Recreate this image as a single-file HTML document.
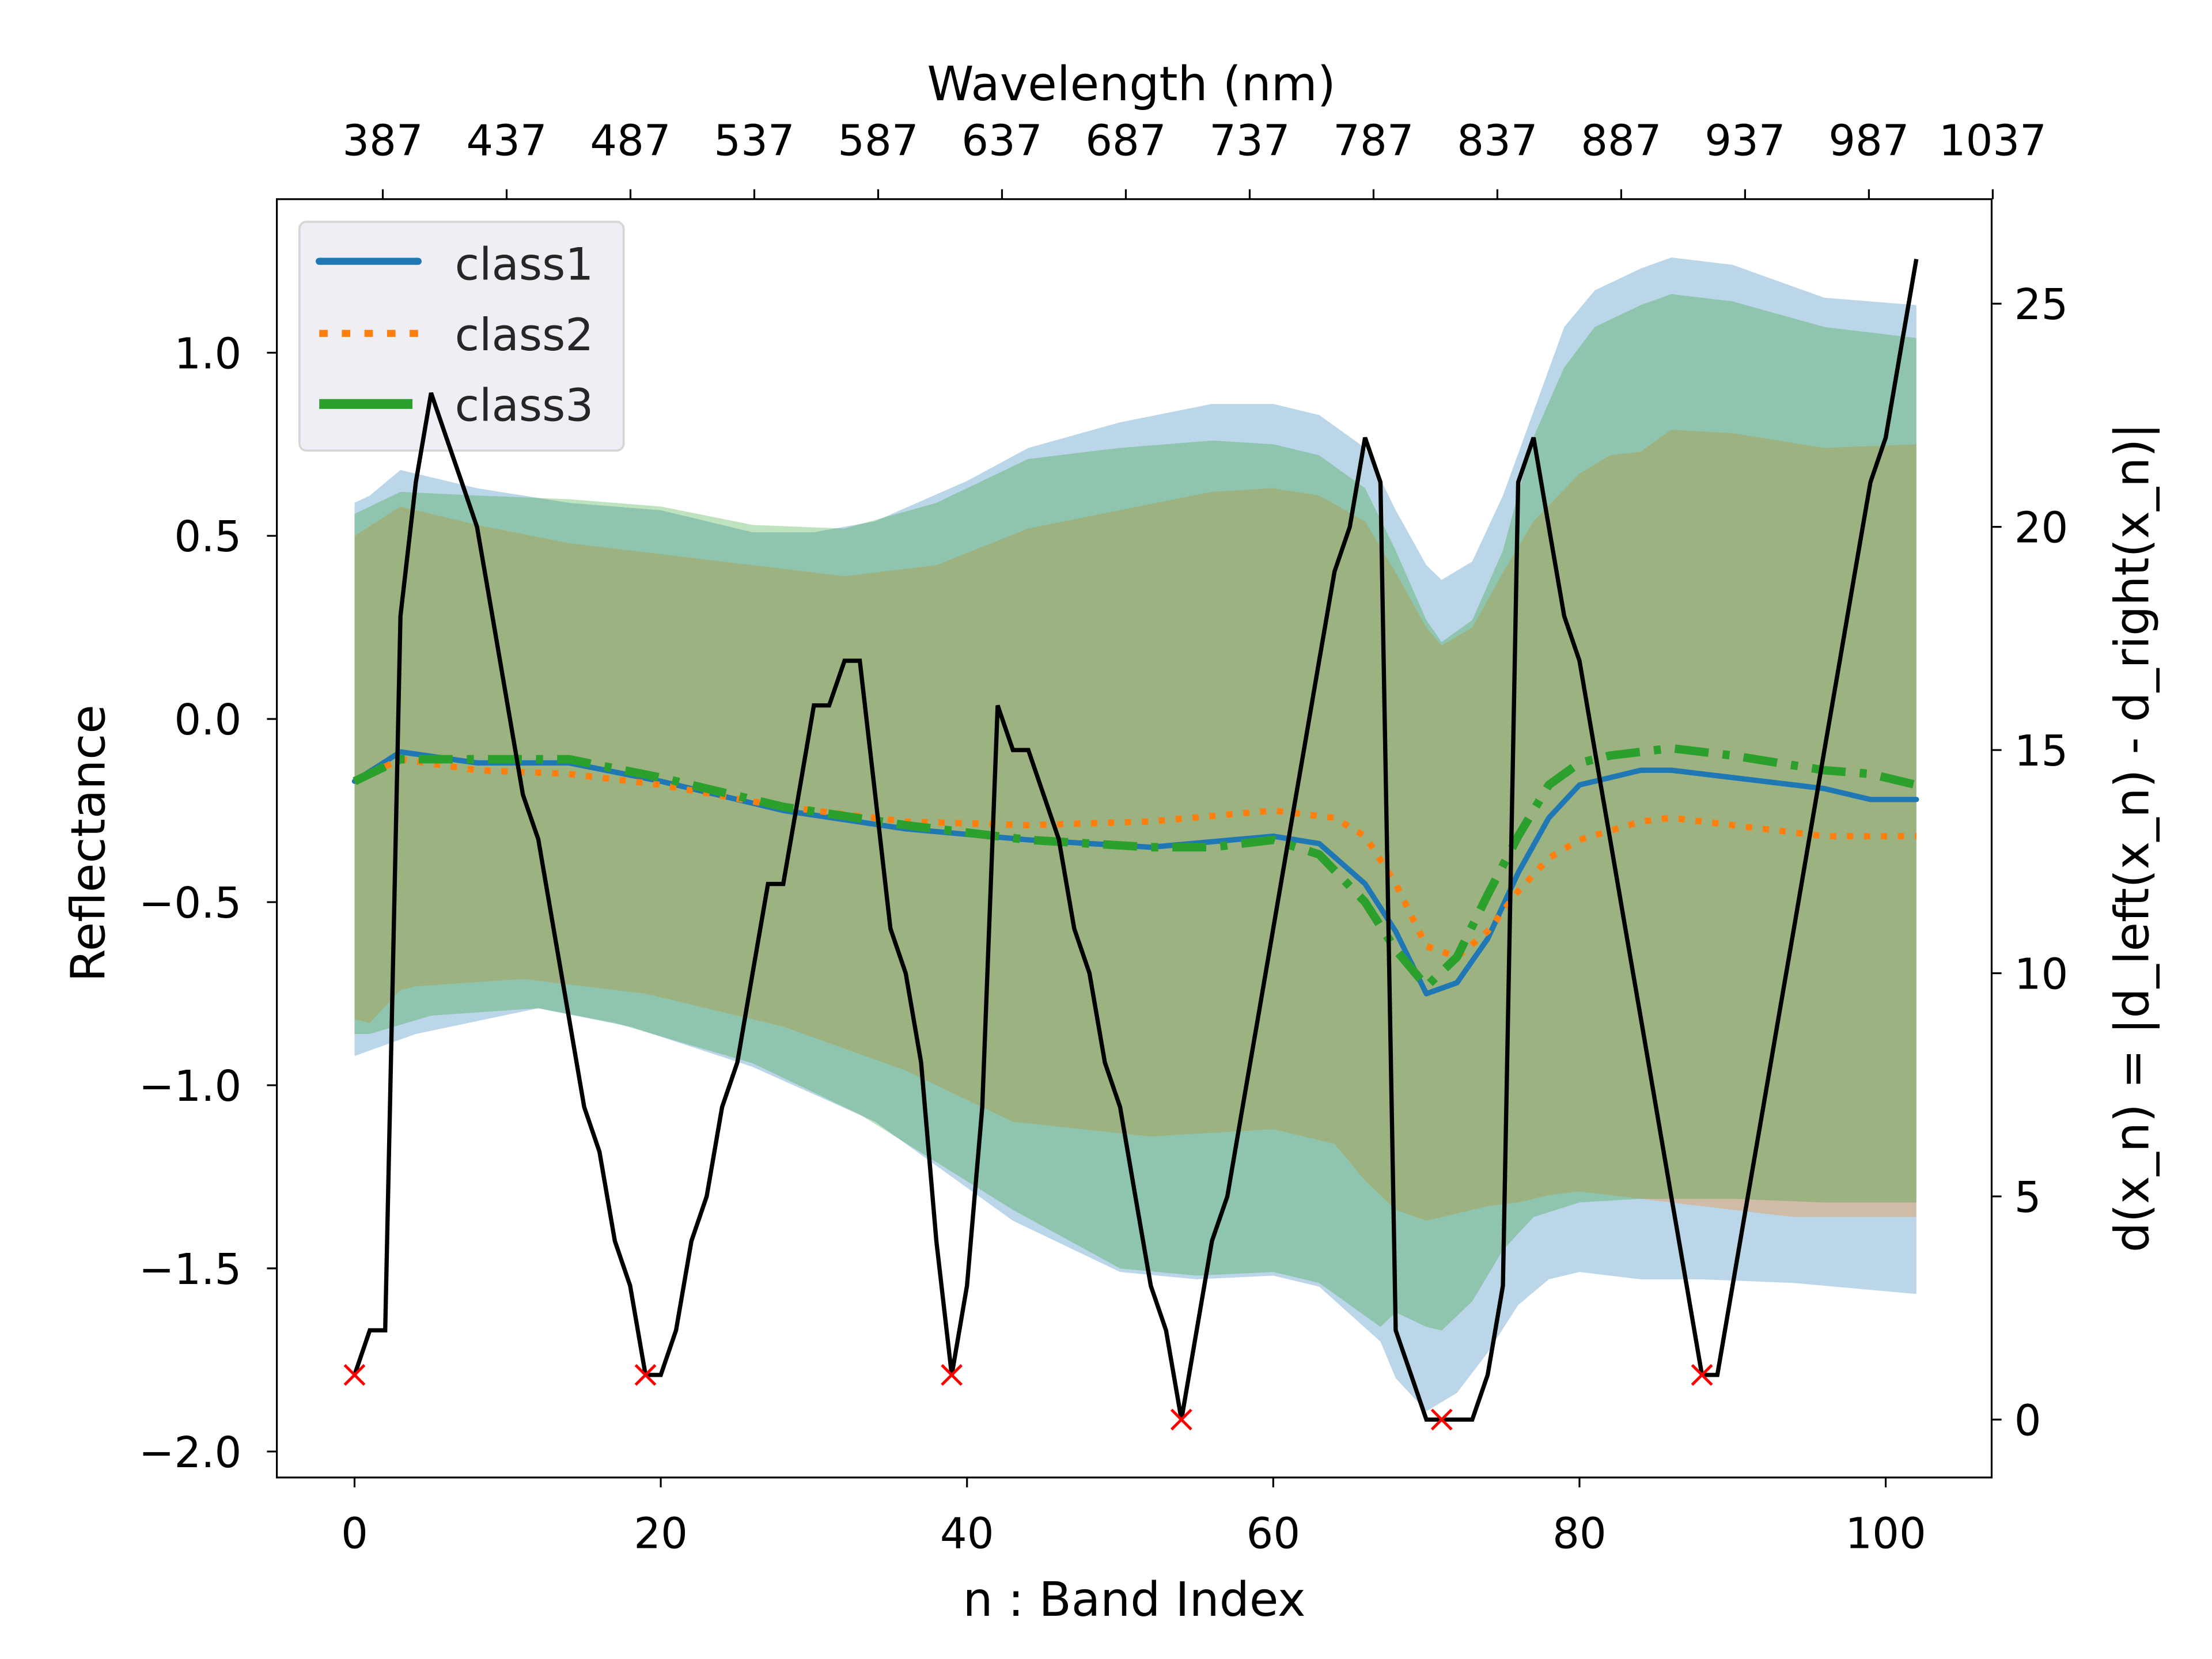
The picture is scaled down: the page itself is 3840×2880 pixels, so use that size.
<!DOCTYPE html>
<html><head><meta charset="utf-8"><style>
html,body{margin:0;padding:0;background:#fff}
svg{display:block}
text{font-family:"DejaVu Sans","Liberation Sans",sans-serif}
</style></head><body>
<svg id="chart" width="3840" height="2880" viewBox="0 0 1566 1174.5" xmlns="http://www.w3.org/2000/svg">
<rect x="0" y="0" width="1566" height="1175" fill="#fff"/>
<g id="fills"></g>
<g id="means"></g>
<g id="axes"></g>
<g id="legend">
  <rect x="212" y="157" width="229.5" height="162" rx="5" fill="#eeeef4" stroke="#d6d6d6" stroke-width="1.5"/>
  <line x1="226" y1="185" x2="296" y2="185" stroke="#1f77b4" stroke-width="5" stroke-linecap="round"/>
  <text x="322" y="198" font-size="31.5" fill="#262626">class1</text>
  <line x1="226" y1="236" x2="296" y2="236" stroke="#ff7f0e" stroke-width="5" stroke-dasharray="6,10"/>
  <text x="322" y="248" font-size="31.5" fill="#262626">class2</text>
  <line x1="226" y1="286" x2="292" y2="286" stroke="#2ca02c" stroke-width="7"/>
  <text x="322" y="298" font-size="31.5" fill="#262626">class3</text>
</g>
<g id="dline"></g>
</svg>
<script>
// ---- data ----
const c1UpIdx=[0,1,3,8,14,20,26,30,34,40,44,50,56,60,63,66,68,70,71,73,75,77,79,81,84,86,90,96,102];
const c1Up=[0.59,0.61,0.68,0.63,0.59,0.57,0.51,0.51,0.54,0.65,0.74,0.81,0.86,0.86,0.83,0.74,0.57,0.42,0.38,0.43,0.61,0.84,1.07,1.17,1.23,1.26,1.24,1.15,1.13];
const c1LoIdx=[0,4,12,18,26,34,43,50,55,60,63,67,68,70,72,74,76,78,80,84,88,94,102];
const c1Lo=[-0.92,-0.86,-0.79,-0.84,-0.95,-1.10,-1.37,-1.51,-1.53,-1.52,-1.55,-1.70,-1.80,-1.89,-1.84,-1.73,-1.60,-1.53,-1.51,-1.53,-1.53,-1.54,-1.57];
const c2UpIdx=[0,3,8,14,20,26,32,38,44,50,56,60,63,66,68,70,71,73,75,77,80,82,84,86,90,96,102];
const c2Up=[0.50,0.58,0.53,0.48,0.45,0.42,0.39,0.42,0.52,0.57,0.62,0.63,0.61,0.54,0.40,0.25,0.20,0.25,0.40,0.54,0.67,0.72,0.73,0.79,0.78,0.74,0.75];
const c2LoIdx=[0,1,3,4,11,19,28,36,43,52,60,64,66,68,70,72,74,76,78,80,84,88,94,102];
const c2Lo=[-0.82,-0.83,-0.74,-0.73,-0.71,-0.75,-0.84,-0.96,-1.10,-1.14,-1.12,-1.16,-1.26,-1.34,-1.37,-1.35,-1.33,-1.32,-1.30,-1.29,-1.31,-1.33,-1.36,-1.36];
const c3UpIdx=[0,3,8,14,20,26,32,38,44,50,56,60,63,66,68,70,71,73,75,77,79,81,84,86,90,96,102];
const c3Up=[0.56,0.62,0.61,0.60,0.58,0.53,0.52,0.59,0.71,0.74,0.76,0.75,0.72,0.63,0.46,0.27,0.21,0.27,0.46,0.77,0.96,1.07,1.13,1.16,1.14,1.07,1.04];
const c3LoIdx=[0,1,5,12,17,26,33,43,50,55,60,63,67,68,70,71,73,75,77,80,84,90,96,102];
const c3Lo=[-0.86,-0.86,-0.81,-0.79,-0.83,-0.94,-1.08,-1.34,-1.50,-1.52,-1.51,-1.54,-1.66,-1.62,-1.66,-1.67,-1.59,-1.45,-1.36,-1.32,-1.31,-1.31,-1.32,-1.32];
const c1MeanIdx=[0,3,8,14,20,28,36,44,52,60,63,66,68,70,72,74,76,78,80,82,84,86,90,96,99,102];
const c1Mean=[-0.17,-0.09,-0.12,-0.12,-0.17,-0.25,-0.30,-0.33,-0.35,-0.32,-0.34,-0.45,-0.58,-0.75,-0.72,-0.60,-0.42,-0.27,-0.18,-0.16,-0.14,-0.14,-0.16,-0.19,-0.22,-0.22];
const c2MeanIdx=[0,3,8,14,20,28,36,44,52,60,64,66,68,70,72,74,76,78,80,84,86,90,96,102];
const c2Mean=[-0.17,-0.11,-0.14,-0.15,-0.18,-0.24,-0.28,-0.29,-0.28,-0.25,-0.27,-0.32,-0.45,-0.62,-0.65,-0.58,-0.47,-0.38,-0.33,-0.28,-0.27,-0.29,-0.32,-0.32];
const c3MeanIdx=[0,3,8,14,20,28,36,44,52,56,60,63,66,68,70,72,74,76,78,80,82,84,86,90,96,99,102];
const c3Mean=[-0.17,-0.11,-0.11,-0.11,-0.16,-0.24,-0.29,-0.33,-0.35,-0.35,-0.33,-0.37,-0.50,-0.63,-0.73,-0.65,-0.48,-0.32,-0.18,-0.12,-0.10,-0.09,-0.08,-0.10,-0.14,-0.15,-0.18];
const dValues=[1,2,2,18,21,23,22,21,20,18,16,14,13,11,9,7,6,4,3,1,1,2,4,5,7,8,10,12,12,14,16,16,17,17,14,11,10,8,4,1,3,7,16,15,15,14,13,11,10,8,7,5,3,2,0,2,4,5,7,9,11,13,15,17,19,20,22,21,2,1,0,0,0,0,1,3,21,22,20,18,17,15,13,11,9,7,5,3,1,1,3,5,7,9,11,13,15,17,19,21,22,24,26];
const minimaIdx=[0,19,39,54,71,88];
const xTicks=[0,20,40,60,80,100];
const yTicks=[-2.0,-1.5,-1.0,-0.5,0.0,0.5,1.0];
const y2Ticks=[0,5,10,15,20,25];
const topTicks=[387,437,487,537,587,637,687,737,787,837,887,937,987,1037];

// ---- scales ----
const X=n=>251+(n-0)*10.84;
const Y=v=>509-v*259.3;
const Y2=d=>1005-d*31.6;
const XT=nm=>271+(nm-387)*1.7535;
const NS='http://www.w3.org/2000/svg';
function mk(tag,parent,attrs){const e=document.createElementNS(NS,tag);for(const k in attrs)e.setAttribute(k,attrs[k]);parent.appendChild(e);return e;}
const fills=document.getElementById('fills'),means=document.getElementById('means'),axes=document.getElementById('axes'),dl=document.getElementById('dline');
const FS=30, TFS=33.5;

function band(upI,up,loI,lo,color,name){
  let pts=upI.map((n,i)=>X(n).toFixed(1)+','+Y(up[i]).toFixed(1));
  for(let i=loI.length-1;i>=0;i--)pts.push(X(loI[i]).toFixed(1)+','+Y(lo[i]).toFixed(1));
  const p=mk('polygon',fills,{points:pts.join(' '),fill:color,'fill-opacity':0.3});
  
  
}
band(c1UpIdx,c1Up,c1LoIdx,c1Lo,'#1f77b4','class1-std-band');
band(c2UpIdx,c2Up,c2LoIdx,c2Lo,'#ff7f0e','class2-std-band');
band(c3UpIdx,c3Up,c3LoIdx,c3Lo,'#2ca02c','class3-std-band');

function line(idx,vals,attrs,name){
  const pts=idx.map((n,i)=>X(n).toFixed(1)+','+Y(vals[i]).toFixed(1)).join(' ');
  const a=Object.assign({points:pts,fill:'none','stroke-linejoin':'round'},attrs);
  const p=mk('polyline',means,a);
  
  
}
line(c1MeanIdx,c1Mean,{stroke:'#1f77b4','stroke-width':3.8,'stroke-linecap':'round'},'class1-mean-line');
line(c2MeanIdx,c2Mean,{stroke:'#ff7f0e','stroke-width':4.5,'stroke-dasharray':'4.5,7.5'},'class2-mean-line');
line(c3MeanIdx,c3Mean,{stroke:'#2ca02c','stroke-width':6,'stroke-dasharray':'24,10,5,10'},'class3-mean-line');

// axes frame
const fr=mk('rect',axes,{x:196,y:141,width:1214,height:905,fill:'none',stroke:'#000','stroke-width':1.3});


xTicks.forEach(t=>{
  const l=mk('line',axes,{x1:X(t),y1:1046,x2:X(t),y2:1053,stroke:'#000','stroke-width':1.3});
  
  
  const tx=mk('text',axes,{x:X(t),y:1096,'font-size':FS,'text-anchor':'middle',fill:'#000'});
  tx.textContent=String(t);
  
  
});
yTicks.forEach(t=>{
  const l=mk('line',axes,{x1:189,y1:Y(t),x2:196,y2:Y(t),stroke:'#000','stroke-width':1.3});
  
  
  const tx=mk('text',axes,{x:171,y:Y(t)+11,'font-size':FS,'text-anchor':'end',fill:'#000'});
  tx.textContent=(t<0?'\u2212':'')+Math.abs(t).toFixed(1);
  
  
});
y2Ticks.forEach(t=>{
  const l=mk('line',axes,{x1:1410,y1:Y2(t),x2:1417,y2:Y2(t),stroke:'#000','stroke-width':1.3});
  
  
  const tx=mk('text',axes,{x:1426,y:Y2(t)+11,'font-size':FS,'text-anchor':'start',fill:'#000'});
  tx.textContent=String(t);
  
  
});
topTicks.forEach(t=>{
  const l=mk('line',axes,{x1:XT(t),y1:134,x2:XT(t),y2:141,stroke:'#000','stroke-width':1.3});
  
  
  const tx=mk('text',axes,{x:XT(t),y:110,'font-size':FS,'text-anchor':'middle',fill:'#000'});
  tx.textContent=String(t);
  
  
});
function label(txt,x,y,rot,name){
  const a={x:x,y:y,'font-size':TFS,'text-anchor':'middle',fill:'#000'};
  if(rot)a.transform='rotate(-90 '+x+' '+y+')';
  const t=mk('text',axes,a);t.textContent=txt;
  
  
}
label('n : Band Index',803,1144,false,'x-axis-title');
label('Wavelength (nm)',801,71,false,'top-axis-title');
label('Reflectance',74,597,true,'y-axis-title');
label('d(x_n) = |d_left(x_n) - d_right(x_n)|',1521,593,true,'y2-axis-title');

// distance line
const dp=mk('polyline',dl,{points:dValues.map((d,i)=>X(i).toFixed(1)+','+Y2(d).toFixed(1)).join(' '),fill:'none',stroke:'#000','stroke-width':3,'stroke-linejoin':'miter'});


minimaIdx.forEach(i=>{
  const cx=X(i),cy=Y2(dValues[i]),s=7;
  const g=mk('path',dl,{d:`M${cx-s},${cy-s}L${cx+s},${cy+s}M${cx-s},${cy+s}L${cx+s},${cy-s}`,stroke:'#ff0000','stroke-width':2});
  
  
});
</script>
</body></html>
